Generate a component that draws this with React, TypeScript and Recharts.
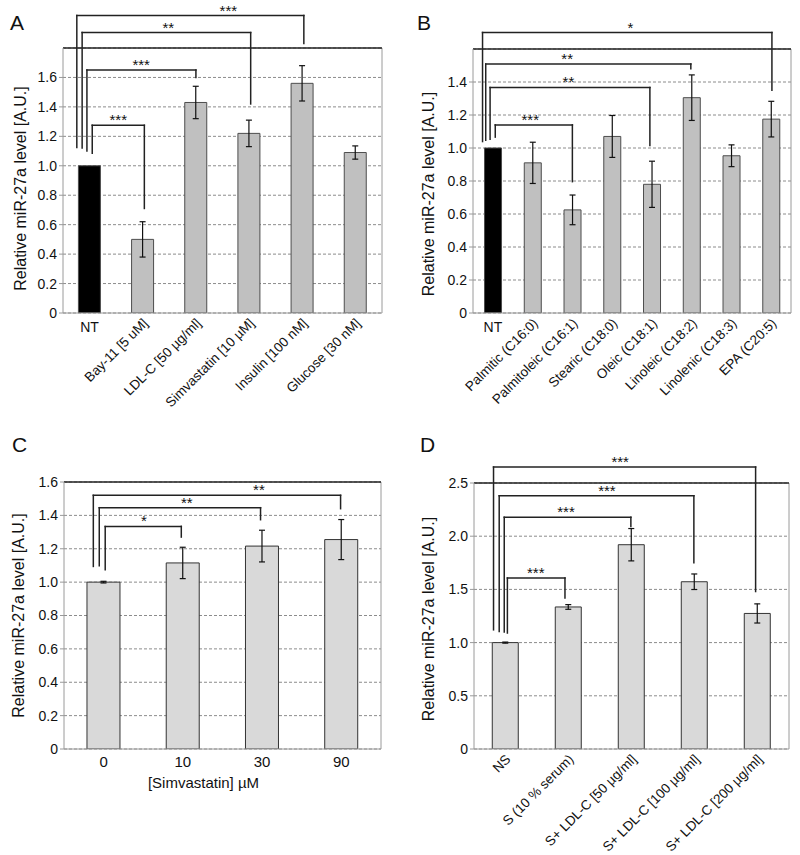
import React from 'react';
import {
  BarChart,
  Bar,
  XAxis,
  YAxis,
  CartesianGrid,
  ErrorBar,
  ReferenceLine,
  ReferenceDot,
  Cell,
  Label,
} from 'recharts';

const FONT = '"Liberation Sans", Arial, Helvetica, sans-serif';

// brackets are in data units: from/to on the category index, low/high are the feet, top is the bar of the bracket
interface Bracket {
  from: number;
  to: number;
  low: number;
  high: number;
  top: number;
  stars: string;
  at: number;
}

// ---- A: various treatments
const catsA = ['NT', 'Bay-11 [5 uM]', 'LDL-C [50 µg/ml]', 'Simvastatin [10 µM]', 'Insulin [100 nM]', 'Glucose [30 nM]'];
const valsA = [1.0, 0.5, 1.43, 1.22, 1.56, 1.09];
const errsA = [0, 0.12, 0.11, 0.09, 0.12, 0.045];
const ticksA = [0, 0.2, 0.4, 0.6, 0.8, 1.0, 1.2, 1.4, 1.6];
const bracketsA: Bracket[] = [
  { from: 0.05, to: 1.03, low: 1.085, high: 0.71, top: 1.275, stars: '***', at: 0.54 },
  { from: -0.05, to: 2.0, low: 1.1, high: 1.6, top: 1.65, stars: '***', at: 0.97 },
  { from: -0.14, to: 3.03, low: 1.12, high: 1.42, top: 1.905, stars: '**', at: 1.48 },
  { from: -0.24, to: 4.03, low: 1.125, high: 1.83, top: 2.02, stars: '***', at: 2.61 },
];

// ---- B: fatty acids
const catsB = ['NT', 'Palmitic (C16:0)', 'Palmitoleic (C16:1)', 'Stearic (C18:0)', 'Oleic (C18:1)', 'Linoleic (C18:2)', 'Linolenic (C18:3)', 'EPA (C20:5)'];
const valsB = [1.0, 0.91, 0.625, 1.07, 0.78, 1.305, 0.953, 1.175];
const errsB = [0, 0.125, 0.09, 0.127, 0.14, 0.138, 0.066, 0.108];
const ticksB = [0, 0.2, 0.4, 0.6, 0.8, 1.0, 1.2, 1.4];
const bracketsB: Bracket[] = [
  { from: 0.06, to: 2.0, low: 1.066, high: 0.796, top: 1.14, stars: '***', at: 0.94 },
  { from: -0.07, to: 3.95, low: 1.053, high: 1.015, top: 1.367, stars: '**', at: 1.9 },
  { from: -0.18, to: 4.98, low: 1.047, high: 1.48, top: 1.509, stars: '**', at: 1.87 },
  { from: -0.26, to: 7.02, low: 1.039, high: 1.35, top: 1.7, stars: '*', at: 3.46 },
];

// ---- C: simvastatin dose
const catsC = ['0', '10', '30', '90'];
const valsC = [1.0, 1.115, 1.216, 1.255];
const errsC = [0.005, 0.094, 0.095, 0.12];
const ticksC = [0, 0.2, 0.4, 0.6, 0.8, 1.0, 1.2, 1.4, 1.6];
const bracketsC: Bracket[] = [
  { from: 0.02, to: 0.98, low: 1.074, high: 1.27, top: 1.334, stars: '*', at: 0.51 },
  { from: -0.055, to: 1.98, low: 1.098, high: 1.374, top: 1.446, stars: '**', at: 1.05 },
  { from: -0.13, to: 2.99, low: 1.094, high: 1.44, top: 1.52, stars: '**', at: 1.96 },
];

// ---- D: serum + LDL-C
const catsD = ['NS', 'S (10 % serum)', 'S+ LDL-C [50 µg/ml]', 'S+ LDL-C [100 µg/ml]', 'S+ LDL-C [200 µg/ml]'];
const valsD = [1.0, 1.335, 1.92, 1.572, 1.274];
const errsD = [0.005, 0.022, 0.152, 0.073, 0.09];
const ticksD = [0, 0.5, 1.0, 1.5, 2.0, 2.5];
const bracketsD: Bracket[] = [
  { from: 0.03, to: 0.944, low: 1.09, high: 1.42, top: 1.607, stars: '***', at: 0.48 },
  { from: -0.02, to: 1.99, low: 1.1, high: 2.09, top: 2.177, stars: '***', at: 0.96 },
  { from: -0.1, to: 2.99, low: 1.105, high: 1.75, top: 2.38, stars: '***', at: 1.61 },
  { from: -0.19, to: 3.97, low: 1.12, high: 1.48, top: 2.65, stars: '***', at: 1.82 },
];

const Y_TITLE = 'Relative miR-27a level [A.U.]';
const fmt = (v: number) => (v === 0 ? '0' : v.toFixed(1));

const SlantTick = (props: any) => {
  const { x, y, payload } = props;
  const v = String(payload.value);
  if (v === 'NT') {
    return (
      <text x={x} y={y + 19} textAnchor="middle" fontSize={14} fontFamily={FONT} fill="#111">
        {v}
      </text>
    );
  }
  // 45 degree labels, ending just right of the bar centre
  return (
    <g transform={`translate(${x + 6},${y + 11})`}>
      <text x={0} y={0} textAnchor="end" transform="rotate(-45)" fontSize={13.5} fontFamily={FONT} fill="#111">
        {v}
      </text>
    </g>
  );
};

const PlainTick = (props: any) => {
  const { x, y, payload } = props;
  return (
    <text x={x} y={y + 18} textAnchor="middle" fontSize={15} fontFamily={FONT} fill="#111">
      {payload.value}
    </text>
  );
};

interface PanelProps {
  letter: string;
  letterLeft: number;
  letterTop: number;
  left: number;
  top: number;
  width: number;
  height: number;
  cats: string[];
  vals: number[];
  errs: number[];
  ticks: number[];
  max: number;
  brackets: Bracket[];
  fill: string;
  firstFill: string;
  edge: string;
  margin: { top: number; right: number; left: number; bottom: number };
  yWidth: number;
  xHeight: number;
  slant: boolean;
  titleX: number;
  titleShift: number;
  xTitle?: string;
}

function Panel(p: PanelProps) {
  const data = p.cats.map((c, i) => ({ name: c, i, v: p.vals[i], e: p.errs[i] }));
  const n = p.cats.length;

  return (
    <div style={{ position: 'absolute', left: p.left, top: p.top, width: p.width, height: p.height }}>
      <div style={{ position: 'absolute', left: p.letterLeft, top: p.letterTop, fontFamily: FONT, fontSize: 21, color: '#111' }}>
        {p.letter}
      </div>
      <BarChart width={p.width} height={p.height} data={data} margin={p.margin} barCategoryGap="29%" style={{ overflow: 'visible' }}>
        <CartesianGrid vertical={false} stroke="#8c8c8c" strokeDasharray="3 2" />
        <XAxis
          dataKey="name"
          interval={0}
          height={p.xHeight}
          stroke="#9a9a9a"
          tickLine={false}
          tickSize={0}
          tickMargin={0}
          tick={p.slant ? <SlantTick /> : <PlainTick />}
        >
          {p.xTitle && (
            <Label
              content={(lp: any) => {
                const vb = lp.viewBox;
                return (
                  <text x={vb.x + vb.width / 2 - 19} y={vb.y + 39} textAnchor="middle" fontSize={15} fontFamily={FONT} fill="#111">
                    {p.xTitle}
                  </text>
                );
              }}
            />
          )}
        </XAxis>
        <XAxis xAxisId="n" dataKey="i" type="number" domain={[-0.5, n - 0.5]} allowDataOverflow hide />
        <YAxis
          domain={[0, p.max]}
          ticks={p.ticks}
          allowDataOverflow
          width={p.yWidth}
          stroke="#9a9a9a"
          tickSize={4}
          tickMargin={2}
          tickFormatter={fmt}
          tick={{ fill: '#111', fontSize: 14, fontFamily: FONT }}
        >
          <Label
            content={(lp: any) => {
              const vb = lp.viewBox;
              const cx = vb.x + p.titleX;
              const cy = vb.y + vb.height / 2 + p.titleShift;
              return (
                <text
                  x={cx}
                  y={cy}
                  textAnchor="middle"
                  dominantBaseline="central"
                  transform={`rotate(-90 ${cx} ${cy})`}
                  fontSize={16}
                  fontFamily={FONT}
                  fill="#111"
                >
                  {Y_TITLE}
                </text>
              );
            }}
          />
        </YAxis>
        <Bar dataKey="v" fill={p.fill} stroke={p.edge} strokeWidth={1} isAnimationActive={false}>
          {data.map((d, i) => (
            <Cell key={d.name} fill={i === 0 ? p.firstFill : p.fill} />
          ))}
          <ErrorBar dataKey="e" width={3} stroke="#111" strokeWidth={1.2} />
        </Bar>
        {/* frame: right edge and dark top edge */}
        <ReferenceLine xAxisId="n" x={n - 0.5} stroke="#9a9a9a" ifOverflow="visible" />
        <ReferenceLine y={p.max} stroke="#222" strokeWidth={1.6} ifOverflow="visible" />
        {p.brackets.map((b, k) => (
          <React.Fragment key={k}>
            <ReferenceLine xAxisId="n" segment={[{ x: b.from, y: b.low }, { x: b.from, y: b.top }]} stroke="#222" strokeWidth={1.5} strokeLinecap="square" ifOverflow="visible" />
            <ReferenceLine xAxisId="n" segment={[{ x: b.from, y: b.top }, { x: b.to, y: b.top }]} stroke="#222" strokeWidth={1.5} strokeLinecap="square" ifOverflow="visible" />
            <ReferenceLine xAxisId="n" segment={[{ x: b.to, y: b.top }, { x: b.to, y: b.high }]} stroke="#222" strokeWidth={1.5} strokeLinecap="square" ifOverflow="visible" />
            <ReferenceDot
              xAxisId="n"
              x={b.at}
              y={b.top}
              r={0}
              ifOverflow="visible"
              label={{ value: b.stars, position: 'top', offset: 0, fontSize: 15, fontFamily: FONT, fill: '#111' }}
            />
          </React.Fragment>
        ))}
      </BarChart>
    </div>
  );
}

export default function App() {
  return (
    <div style={{ position: 'absolute', left: 0, top: 0, width: 800, height: 855, background: '#fff' }}>
      <Panel
        letter="A"
        letterLeft={10}
        letterTop={11}
        left={0}
        top={0}
        width={400}
        height={430}
        cats={catsA}
        vals={valsA}
        errs={errsA}
        ticks={ticksA}
        max={1.8}
        brackets={bracketsA}
        fill="#c0c0c0"
        firstFill="#000"
        edge="#4d4d4d"
        margin={{ top: 48, right: 18, left: 0, bottom: 0 }}
        yWidth={63}
        xHeight={117}
        slant
        titleX={20}
        titleShift={8}
      />
      <Panel
        letter="B"
        letterLeft={17}
        letterTop={11}
        left={400}
        top={0}
        width={400}
        height={430}
        cats={catsB}
        vals={valsB}
        errs={errsB}
        ticks={ticksB}
        max={1.6}
        brackets={bracketsB}
        fill="#c0c0c0"
        firstFill="#000"
        edge="#4d4d4d"
        margin={{ top: 49, right: 9, left: 0, bottom: 0 }}
        yWidth={73}
        xHeight={117}
        slant
        titleX={28}
        titleShift={13}
      />
      <Panel
        letter="C"
        letterLeft={12}
        letterTop={3}
        left={0}
        top={430}
        width={400}
        height={425}
        cats={catsC}
        vals={valsC}
        errs={errsC}
        ticks={ticksC}
        max={1.6}
        brackets={bracketsC}
        fill="#d9d9d9"
        firstFill="#d9d9d9"
        edge="#333"
        margin={{ top: 52, right: 19, left: 0, bottom: 0 }}
        yWidth={64}
        xHeight={106}
        slant={false}
        titleX={18}
        titleShift={0}
        xTitle="[Simvastatin] µM"
      />
      <Panel
        letter="D"
        letterLeft={20}
        letterTop={3}
        left={400}
        top={430}
        width={400}
        height={425}
        cats={catsD}
        vals={valsD}
        errs={errsD}
        ticks={ticksD}
        max={2.5}
        brackets={bracketsD}
        fill="#d9d9d9"
        firstFill="#d9d9d9"
        edge="#333"
        margin={{ top: 53, right: 11, left: 0, bottom: 0 }}
        yWidth={74}
        xHeight={106}
        slant
        titleX={28}
        titleShift={3}
      />
    </div>
  );
}
